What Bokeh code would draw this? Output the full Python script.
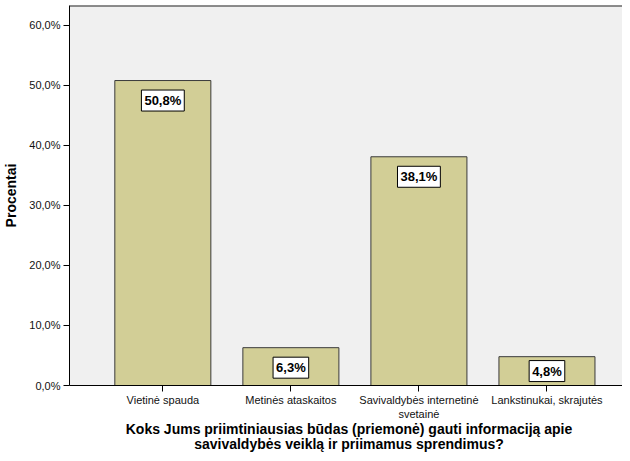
from bokeh.plotting import figure
from bokeh.models import Range1d, FixedTicker, Label, ColumnDataSource, Span, Div
from bokeh.layouts import column
from bokeh.embed import file_html
from bokeh.resources import INLINE

categories = ["Vietinė spauda", "Metinės ataskaitos",
              "Savivaldybės internetinė\nsvetainė", "Lankstinukai, skrajutės"]
values = [50.8, 6.3, 38.1, 4.8]
value_labels = ["50,8%", "6,3%", "38,1%", "4,8%"]
y_ticks = [0, 10, 20, 30, 40, 50, 60]
y_tick_labels = ["0,0%", "10,0%", "20,0%", "30,0%", "40,0%", "50,0%", "60,0%"]
x_title_lines = ["Koks Jums priimtiniausias būdas (priemonė) gauti informaciją apie",
                 "savivaldybės veiklą ir priimamus sprendimus?"]
y_title = "Procentai"

FONT = "Liberation Sans"
xs = [i + 0.5 for i in range(len(categories))]

Y_MAX = 63.3
W, H = 622, 422
p = figure(width=W, height=H, output_backend="svg", toolbar_location=None,
           x_range=Range1d(-0.229, 4.09), y_range=Range1d(0, Y_MAX),
           min_border_left=63, min_border_right=0, min_border_top=5, min_border_bottom=34)
p.background_fill_color = "#F0F0F0"
p.border_fill_color = "white"
p.outline_line_color = None
p.xgrid.visible = False
p.ygrid.visible = False

src = ColumnDataSource(dict(x=xs, top=values))
p.vbar(x="x", top="top", width=0.75, source=src, fill_color="#D2CE96",
       line_color="#3a3a3a", line_width=1)

p.add_layout(Span(location=Y_MAX, dimension="width", line_color="#222222", line_width=2))

xa = p.below[0]
ya = p.left[0]

xa.ticker = FixedTicker(ticks=xs)
xa.major_label_overrides = {x: c for x, c in zip(xs, categories)}
xa.major_label_text_font = FONT
xa.major_label_text_font_size = "11px"
xa.major_label_text_color = "#111111"
xa.major_label_standoff = 2
xa.major_tick_out = 6
xa.major_tick_in = 0
xa.minor_tick_line_color = None
xa.axis_line_color = "black"
xa.major_tick_line_color = "black"

ya.ticker = FixedTicker(ticks=y_ticks)
ya.major_label_overrides = {t: l for t, l in zip(y_ticks, y_tick_labels)}
ya.major_label_text_font = FONT
ya.major_label_text_font_size = "11px"
ya.major_label_text_color = "#111111"
ya.major_label_standoff = 3
ya.major_tick_out = 6
ya.major_tick_in = 0
ya.minor_tick_line_color = None
ya.axis_line_color = "black"
ya.major_tick_line_color = "black"
ya.axis_label = y_title
ya.axis_label_text_font = FONT
ya.axis_label_text_font_size = "14px"
ya.axis_label_text_font_style = "bold"
ya.axis_label_text_color = "black"
ya.axis_label_standoff = 7

plot_h_px = 381
for x, v, t in zip(xs, values, value_labels):
    bar_px = v / Y_MAX * plot_h_px
    off = min(20, bar_px - 14.5)
    p.add_layout(Label(x=x, y=v, y_offset=-off, text=t, text_align="center",
                       text_baseline="middle", text_font=FONT, text_font_size="13px",
                       text_font_style="bold", text_color="black",
                       background_fill_color="white", border_line_color="black",
                       border_line_width=1, padding=3))

title_div = Div(text="<br>".join(x_title_lines), width=546, height=31,
                margin=(0, 0, 0, 76),
                styles={"font-family": "'Liberation Sans', Arial, sans-serif",
                        "font-size": "14px", "font-weight": "bold",
                        "text-align": "center", "line-height": "15px",
                        "color": "black", "width": "546px"})

layout = column(p, title_div, spacing=0)
open("out.html", "w").write(file_html(layout, INLINE))
